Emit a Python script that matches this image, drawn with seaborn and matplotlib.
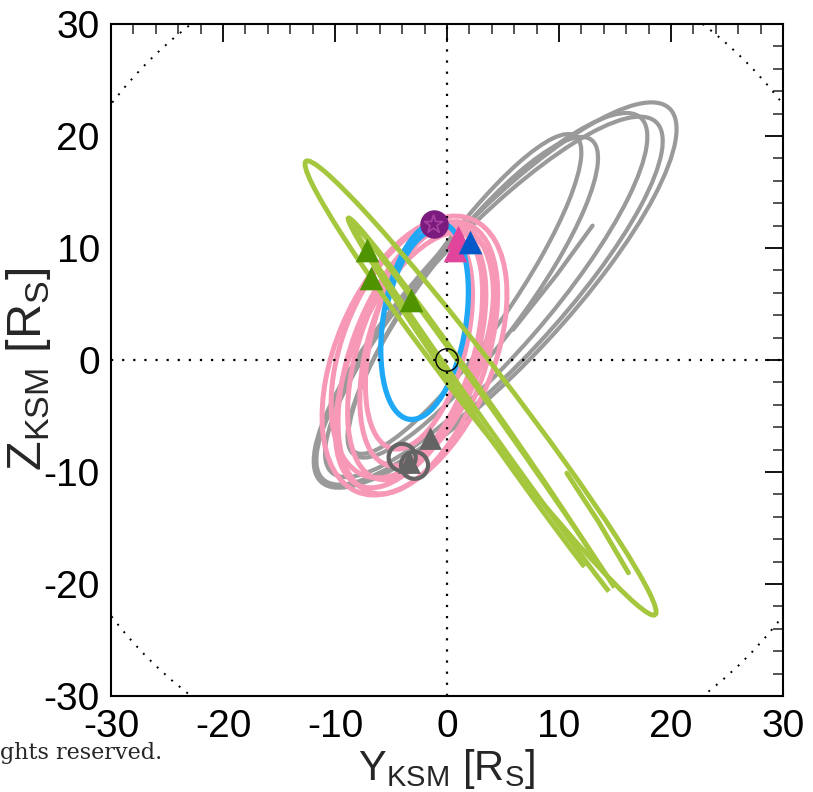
import numpy as np
import seaborn as sns
import matplotlib.pyplot as plt
from matplotlib.patches import Arc, Circle
from matplotlib.ticker import MultipleLocator

# orbit loops: centre (Y, Z), major / minor axis length, tilt (deg)
gray_cy = [4.3, 3.8, 3.5, 2.3, 1.6]
gray_cz = [5.8, 5.3, 5.8, 5.6, 5.9]
gray_major = [45.6, 43.6, 42.0, 35.2, 34.4]
gray_minor = [12.4, 11.6, 11.0, 9.0, 8.0]
gray_tilt = [47, 47, 49, 53, 55]
gray_start_y = [5.9, 9.8, 13.0]
gray_start_z = [2.7, 7.6, 12.0]

pink_cy = [-2.9, -2.6, -2.7, -2.3, -2.9, -2.5, -3.1]
pink_cz = [0.4, 0.2, 0.6, 1.2, 0.0, 1.8, 0.9]
pink_major = [26.4, 25.5, 23.5, 22.0, 24.5, 20.0, 24.0]
pink_minor = [14.0, 12.0, 10.5, 9.5, 11.0, 8.5, 12.5]
pink_tilt = [67, 70, 72, 74, 66, 76, 69]

blue_cy = [-2.0, -2.2]
blue_cz = [3.5, 3.3]
blue_major = [17.8, 16.8]
blue_minor = [7.4, 6.8]
blue_tilt = [81, 80]
blue_t1 = [0, 8]
blue_t2 = [360, 80]

green_cy = [3.0, 3.5, 3.95]
green_cz = [-2.5, -4.9, -5.3]
green_major = [51.1, 42.9, 43.4]
green_minor = [4.2, 1.8, 1.2]
green_tilt = [-52.4, -55, -54.7]
green_t1 = [0, 2.1, 0.95]
green_t2 = [360, 357.9, 359.05]
green_start_y = [10.7, 13.5, 16.2]
green_start_z = [-10.1, -14.4, -19.0]

# event markers
tri_green_y = [-7.1, -6.8, -3.2]
tri_green_z = [9.8, 7.3, 5.4]
tri_pink_y = [0.7, 1.0]
tri_pink_z = [9.8, 11.0]
tri_blue_y = [2.05]
tri_blue_z = [10.5]
tri_dgray_y = [-1.5, -3.4]
tri_dgray_z = [-7.0, -9.1]
ring_dgray_y = [-4.0, -2.9]
ring_dgray_z = [-8.7, -9.4]
purple_y = [-1.2]
purple_z = [12.1]

sns.set_style("white")
plt.rcParams['font.family'] = ['Liberation Sans', 'DejaVu Sans']
plt.rcParams['mathtext.fontset'] = 'custom'
plt.rcParams['mathtext.rm'] = 'Liberation Sans'
plt.rcParams['axes.unicode_minus'] = False

fig = plt.figure(figsize=(8.13, 7.92), dpi=100)
ax = fig.add_axes([0.1365, 0.1212, 0.8266, 0.8485])


def loops(cy, cz, major, minor, tilt, color, lw, z, t1=None, t2=None):
    for i in range(len(cy)):
        a = 0 if t1 is None else t1[i]
        b = 360 if t2 is None else t2[i]
        ax.add_patch(Arc((cy[i], cz[i]), major[i], minor[i], angle=tilt[i],
                         theta1=a, theta2=b, color=color, lw=lw, zorder=z))


loops(gray_cy, gray_cz, gray_major, gray_minor, gray_tilt, '#9a9a9a', 3.0, 2)
sns.lineplot(x=gray_start_y, y=gray_start_z, sort=False, color='#9a9a9a', lw=3.0, ax=ax, zorder=2)
loops(pink_cy, pink_cz, pink_major, pink_minor, pink_tilt, '#f799b6', 3.6, 3)
loops(blue_cy, blue_cz, blue_major, blue_minor, blue_tilt, '#1fa8f6', 3.8, 4, blue_t1, blue_t2)
loops(green_cy, green_cz, green_major, green_minor, green_tilt, '#a5c73d', 3.5, 5, green_t1, green_t2)
sns.lineplot(x=green_start_y, y=green_start_z, sort=False, color='#a5c73d', lw=3.5, ax=ax, zorder=5)

# reference lines, Saturn and dotted circle
ax.axhline(0, color='black', lw=1.6, ls=(0, (1, 4)), zorder=6)
ax.axvline(0, color='black', lw=1.6, ls=(0, (1, 4)), zorder=6)
ax.add_patch(Circle((0, 0), 1.0, fill=False, color='black', lw=1.0, zorder=7))
ax.add_patch(Circle((0, 0), 37.7, fill=False, color='black', lw=1.4, ls=(0, (1, 4)), zorder=6))

# markers
sns.scatterplot(x=tri_green_y, y=tri_green_z, marker='^', s=290, color='#4f9300', linewidth=0, ax=ax, zorder=8)
sns.scatterplot(x=tri_dgray_y, y=tri_dgray_z, marker='^', s=270, color='#646464', linewidth=0, ax=ax, zorder=8)
ax.scatter(ring_dgray_y, ring_dgray_z, marker='o', s=380, facecolors='none', edgecolors='#646464', linewidths=3.0, zorder=9)
sns.scatterplot(x=purple_y, y=purple_z, marker='o', s=420, color='#7b1b7e', linewidth=0, ax=ax, zorder=8)
ax.scatter(purple_y, purple_z, marker='*', s=190, facecolors='none', edgecolors='#a8419f', linewidths=1.2, zorder=9)
sns.scatterplot(x=tri_pink_y, y=tri_pink_z, marker='^', s=290, color='#e0449b', linewidth=0, ax=ax, zorder=9)
sns.scatterplot(x=tri_blue_y, y=tri_blue_z, marker='^', s=290, color='#0058c9', linewidth=0, ax=ax, zorder=10)

ax.set_xlim(-30, 30)
ax.set_ylim(-30, 30)
ax.xaxis.set_major_locator(MultipleLocator(10))
ax.yaxis.set_major_locator(MultipleLocator(10))
ax.xaxis.set_minor_locator(MultipleLocator(2))
ax.yaxis.set_minor_locator(MultipleLocator(2))
ax.tick_params(which='major', direction='in', length=13, width=1.3, top=True, right=True,
               pad=8, colors='black')
ax.tick_params(axis='x', which='major', labelsize=28, pad=9)
ax.tick_params(axis='y', which='major', labelsize=28)
ax.tick_params(which='minor', direction='in', length=7, width=1.1, top=True, right=True)
for s in ax.spines.values():
    s.set_linewidth(1.5)
    s.set_color('black')

ax.set_xlabel(r'Y$_{\mathrm{KSM}}$ [R$_{\mathrm{S}}$]', fontsize=30)
ax.xaxis.set_label_coords(0.5, -0.076)
ax.set_ylabel(r'Z$_{\mathrm{KSM}}$ [R$_{\mathrm{S}}$]', fontsize=35)
ax.yaxis.set_label_coords(-0.086, 0.487)

fig.text(0.0, 0.042, 'ghts reserved.', fontsize=16, family=['DejaVu Serif', 'Liberation Serif'])

fig.savefig('out.png', dpi=100)
